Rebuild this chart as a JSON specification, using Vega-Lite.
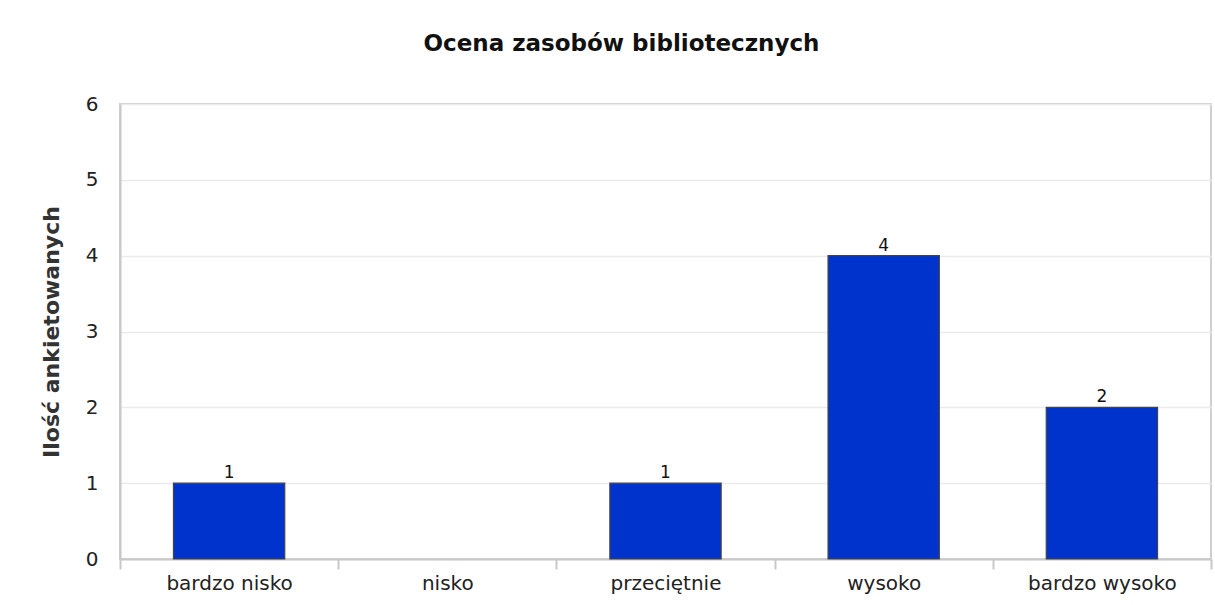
{
  "$schema": "https://vega.github.io/schema/vega-lite/v6.json",
  "autosize": "none",
  "width": 1091,
  "height": 455,
  "padding": {"left": 120, "top": 104, "right": 4, "bottom": 46},
  "background": "white",
  "title": {
    "text": "Ocena zasobów bibliotecznych",
    "font": "DejaVu Sans",
    "fontSize": 23,
    "fontWeight": "bold",
    "color": "#111111",
    "anchor": "middle",
    "dx": -44,
    "offset": 38
  },
  "data": {
    "values": [
      {"ocena": "bardzo nisko", "ilosc": 1},
      {"ocena": "nisko", "ilosc": 0},
      {"ocena": "przeciętnie", "ilosc": 1},
      {"ocena": "wysoko", "ilosc": 4},
      {"ocena": "bardzo wysoko", "ilosc": 2}
    ]
  },
  "encoding": {
    "x": {
      "field": "ocena",
      "type": "nominal",
      "sort": null,
      "scale": {"domain": ["bardzo nisko", "nisko", "przeciętnie", "wysoko", "bardzo wysoko"], "paddingInner": 0, "paddingOuter": 0},
      "axis": {
        "title": null,
        "labelAngle": 0,
        "labelFont": "DejaVu Sans",
        "labelFontSize": 20,
        "labelColor": "#222222",
        "labelPadding": 4,
        "tickBand": "extent",
        "tickSize": 10,
        "tickColor": "#c8c8c8",
        "tickWidth": 2,
        "domainColor": "#c8c8c8",
        "domainWidth": 2,
        "grid": false
      }
    },
    "y": {
      "field": "ilosc",
      "type": "quantitative",
      "scale": {"domain": [0, 6]},
      "axis": {
        "title": "Ilość ankietowanych",
        "titleFont": "DejaVu Sans",
        "titleFontSize": 22,
        "titleFontWeight": "bold",
        "titleColor": "#333333",
        "titlePadding": 22,
        "values": [0, 1, 2, 3, 4, 5, 6],
        "format": "d",
        "labelFont": "DejaVu Sans",
        "labelFontSize": 20,
        "labelColor": "#222222",
        "labelPadding": 22,
        "ticks": false,
        "domainColor": "#c8c8c8",
        "domainWidth": 2,
        "gridColor": "#ebebeb",
        "gridWidth": 1.5
      }
    }
  },
  "layer": [
    {
      "transform": [{"filter": "datum.ilosc > 0"}],
      "mark": {
        "type": "bar",
        "width": {"band": 0.51},
        "color": "#0033cc",
        "stroke": "#444444",
        "strokeWidth": 1.2
      }
    },
    {
      "transform": [{"filter": "datum.ilosc > 0"}],
      "mark": {
        "type": "text",
        "baseline": "bottom",
        "dy": -1,
        "font": "DejaVu Sans",
        "fontSize": 17,
        "color": "#111111"
      },
      "encoding": {"text": {"field": "ilosc", "type": "quantitative"}}
    }
  ],
  "config": {
    "view": {"stroke": "#d0d0d0", "strokeWidth": 2}
  }
}
